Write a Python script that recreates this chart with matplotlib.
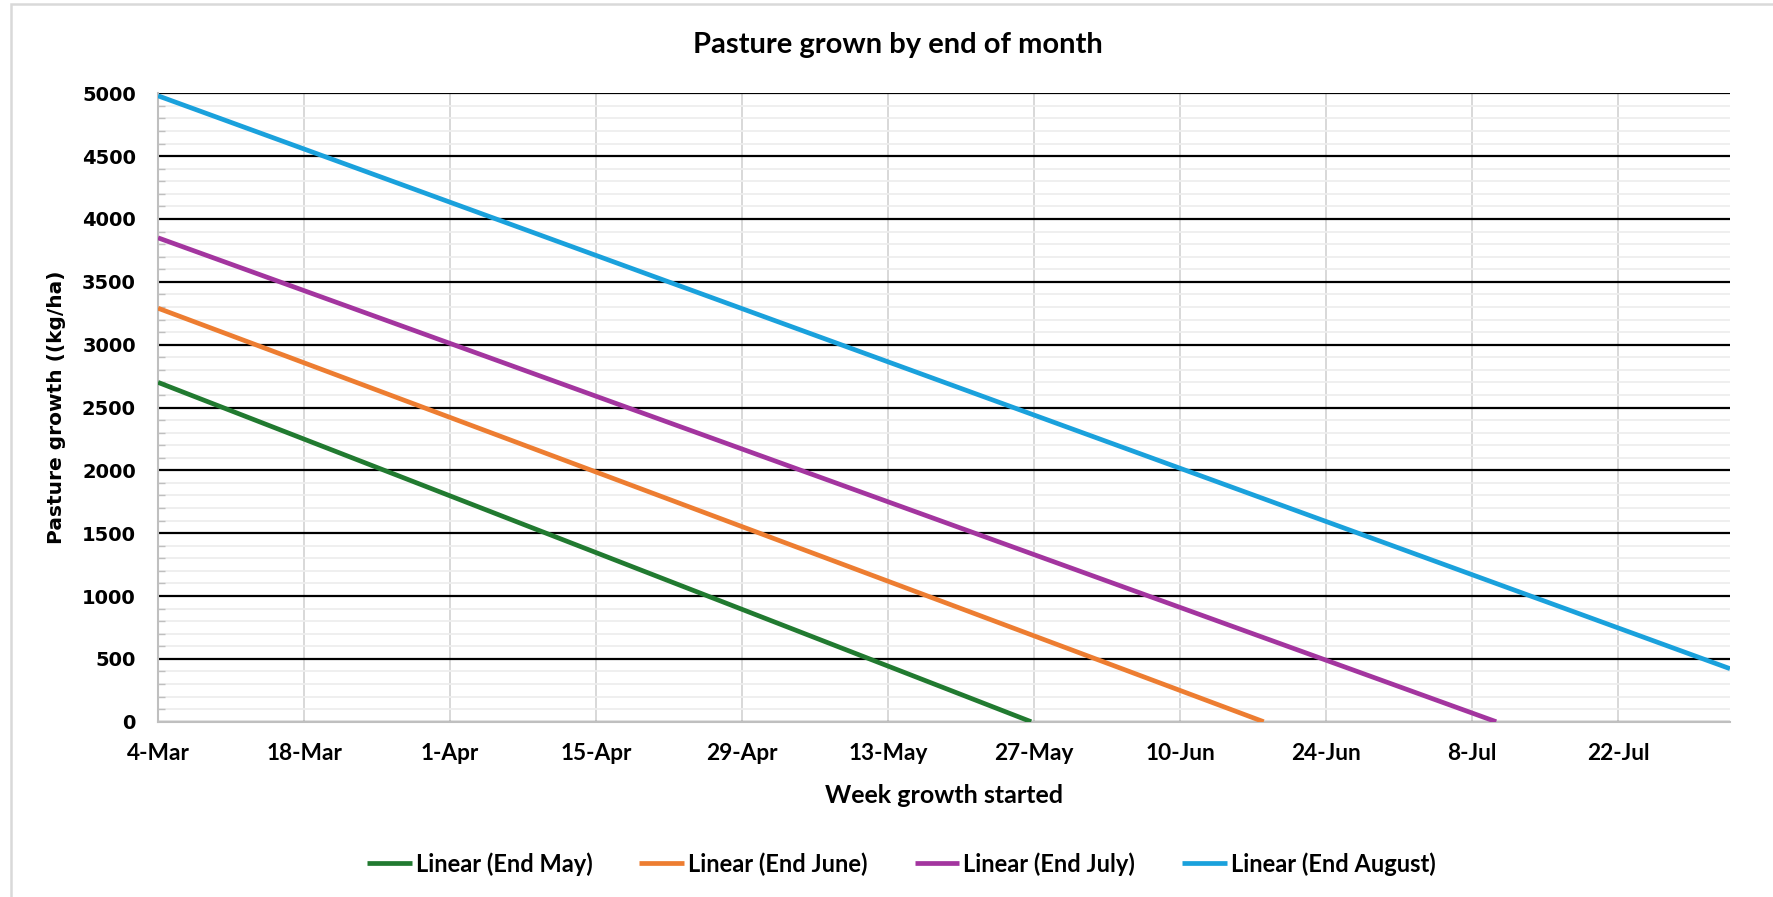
import datetime as dt

import matplotlib.dates as mdates
import matplotlib.pyplot as plt
from matplotlib.patches import Rectangle
from matplotlib.ticker import MultipleLocator

# Linear trend lines: value at the first week and the date where each line meets 0
series_names = ["Linear (End May)", "Linear (End June)", "Linear (End July)", "Linear (End August)"]
series_colors = ["#217a30", "#ed7d31", "#a3359f", "#1aa1dc"]
start_dates = ["2024-03-04", "2024-03-04", "2024-03-04", "2024-03-04"]
start_values = [2700, 3290, 3850, 4980]
end_dates = ["2024-05-26 17:00", "2024-06-18", "2024-07-10 07:00", "2024-08-01 17:00"]
end_values = [0, 0, 0, 422]

tick_dates = ["2024-03-04", "2024-03-18", "2024-04-01", "2024-04-15", "2024-04-29",
              "2024-05-13", "2024-05-27", "2024-06-10", "2024-06-24", "2024-07-08",
              "2024-07-22"]
x_min = "2024-03-04"
x_max = "2024-08-01 17:00"


def to_dt(s):
    return dt.datetime.fromisoformat(s)


fig = plt.figure(figsize=(17.74, 8.97), dpi=100)
ax = fig.add_axes([0.0891, 0.1954, 0.8861, 0.7006])

for name, color, x0, x1, y0, y1 in zip(series_names, series_colors, start_dates,
                                       end_dates, start_values, end_values):
    ax.plot([to_dt(x0), to_dt(x1)], [y0, y1], color=color, lw=3.4, label=name,
            solid_capstyle="butt", zorder=5)

ax.set_xlim(to_dt(x_min), to_dt(x_max))
ax.set_ylim(0, 5000)

ax.yaxis.set_major_locator(MultipleLocator(500))
ax.yaxis.set_minor_locator(MultipleLocator(100))
ax.set_xticks([to_dt(d) for d in tick_dates])
ax.xaxis.set_major_formatter(mdates.DateFormatter("%-d-%b"))

ax.grid(axis="y", which="major", color="black", lw=1.6, zorder=2)
ax.grid(axis="y", which="minor", color="#eeeeee", lw=1.3, zorder=1)
ax.grid(axis="x", which="major", color="#d6d6d6", lw=1.3, zorder=1)

for side in ["top", "right"]:
    ax.spines[side].set_visible(False)
for side in ["left", "bottom"]:
    ax.spines[side].set_color("#bfbfbf")
    ax.spines[side].set_linewidth(1.5)

ax.tick_params(axis="y", which="major", length=0, pad=16)
ax.tick_params(axis="y", which="minor", direction="in", length=5, color="#bfbfbf", width=1)
ax.tick_params(axis="x", which="major", length=0, pad=15)

for lab in ax.get_yticklabels():
    lab.set_fontsize(14)
    lab.set_fontweight("bold")
for lab in ax.get_xticklabels():
    lab.set_family("Lato")
    lab.set_fontsize(16.3)
    lab.set_fontweight("bold")

fig.text(0.532, 0.1137, "Week growth started", ha="center", va="center",
         fontsize=18, fontweight="bold", family="Lato")
fig.text(0.032, 0.546, "Pasture growth ((kg/ha)", rotation=90, ha="center", va="center",
         fontsize=14.5, fontweight="bold")

fig.text(0.506, 0.941, "Pasture grown by end of month", ha="center", va="baseline",
         fontsize=21, fontweight="bold", family="Lato")

fig.legend(loc="center", bbox_to_anchor=(0.508, 0.037), ncol=4, frameon=False,
           prop={"family": "Lato", "weight": "bold", "size": 17},
           handlelength=1.9, handletextpad=0.15, columnspacing=2.0)

fig.patches.append(Rectangle((0.0062, -0.02), 1.1, 1.0155, transform=fig.transFigure,
                             fill=False, edgecolor="#d9d9d9", lw=1.8))

fig.savefig("out.png", dpi=100)
